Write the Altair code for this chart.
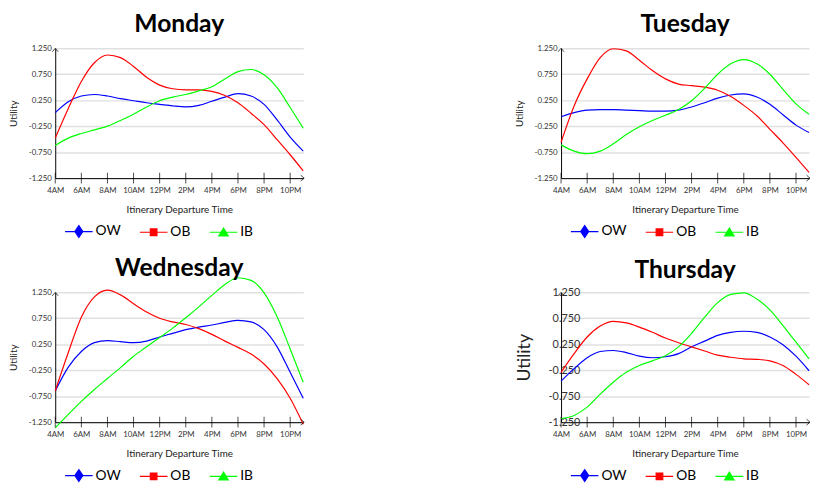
import altair as alt
import pandas as pd

hours = list(range(4, 24))
tick_hours = [4, 6, 8, 10, 12, 14, 16, 18, 20, 22]
y_ticks = [-1.25, -0.75, -0.25, 0.25, 0.75, 1.25]
series_names = ["OW", "OB", "IB"]
series_colors = ["#0000ff", "#ff0000", "#00ff00"]
days = ["Monday", "Tuesday", "Wednesday", "Thursday"]

mon_ow = [0.01, 0.22, 0.33, 0.36, 0.33, 0.28, 0.24, 0.20, 0.17, 0.14, 0.12, 0.15, 0.23, 0.31, 0.375, 0.33, 0.17, -0.13, -0.46, -0.73]
mon_ob = [-0.48, 0.09, 0.61, 0.97, 1.12, 1.07, 0.90, 0.69, 0.54, 0.47, 0.45, 0.45, 0.42, 0.34, 0.20, 0.0, -0.22, -0.51, -0.80, -1.11]
mon_ib = [-0.62, -0.48, -0.39, -0.32, -0.25, -0.14, -0.02, 0.12, 0.24, 0.31, 0.36, 0.43, 0.51, 0.66, 0.80, 0.84, 0.74, 0.49, 0.11, -0.29]

tue_ow = [-0.07, 0.01, 0.06, 0.07, 0.07, 0.06, 0.05, 0.04, 0.04, 0.06, 0.12, 0.20, 0.29, 0.35, 0.37, 0.31, 0.17, -0.03, -0.23, -0.37]
tue_ob = [-0.56, 0.14, 0.66, 1.07, 1.24, 1.20, 1.02, 0.82, 0.66, 0.56, 0.53, 0.50, 0.44, 0.32, 0.15, -0.05, -0.31, -0.57, -0.85, -1.14]
tue_ib = [-0.61, -0.73, -0.78, -0.73, -0.59, -0.41, -0.26, -0.14, -0.04, 0.07, 0.24, 0.48, 0.75, 0.95, 1.03, 0.95, 0.75, 0.46, 0.18, -0.02]

wed_ow = [-0.65, -0.19, 0.11, 0.28, 0.32, 0.30, 0.28, 0.31, 0.39, 0.46, 0.53, 0.58, 0.62, 0.67, 0.71, 0.68, 0.53, 0.20, -0.29, -0.79]
wed_ob = [-0.65, 0.09, 0.77, 1.16, 1.29, 1.20, 1.03, 0.87, 0.75, 0.68, 0.63, 0.55, 0.44, 0.31, 0.19, 0.06, -0.13, -0.41, -0.79, -1.29]
wed_ib = [-1.36, -1.10, -0.85, -0.62, -0.41, -0.20, 0.02, 0.20, 0.38, 0.56, 0.76, 0.97, 1.19, 1.40, 1.53, 1.48, 1.24, 0.78, 0.16, -0.48]

thu_ow = [-0.46, -0.22, -0.01, 0.11, 0.13, 0.09, 0.02, -0.01, 0.01, 0.07, 0.20, 0.31, 0.42, 0.48, 0.50, 0.48, 0.39, 0.24, 0.02, -0.26]
thu_ob = [-0.29, 0.07, 0.39, 0.60, 0.69, 0.66, 0.58, 0.48, 0.37, 0.28, 0.20, 0.12, 0.04, 0.0, -0.03, -0.04, -0.07, -0.16, -0.33, -0.53]
thu_ib = [-1.18, -1.12, -0.96, -0.71, -0.48, -0.29, -0.16, -0.07, 0.03, 0.20, 0.46, 0.77, 1.05, 1.21, 1.24, 1.12, 0.91, 0.61, 0.29, -0.03]

day_series = {
    "Monday": [mon_ow, mon_ob, mon_ib],
    "Tuesday": [tue_ow, tue_ob, tue_ib],
    "Wednesday": [wed_ow, wed_ob, wed_ib],
    "Thursday": [thu_ow, thu_ob, thu_ib],
}

FONT = "Lato"
W, H = 252, 132

legend_shapes = [
    "M-1,0H1M0,-0.43L0.29,0L0,0.43L-0.29,0Z",
    "M-1,0H1M-0.24,-0.24H0.24V0.24H-0.24Z",
    "M-1,0H1M0,-0.3L0.34,0.26H-0.34Z",
]


def panel(day, big=False, title_offset=8):
    rows = []
    for name, vals in zip(series_names, day_series[day]):
        for h, v in zip(hours, vals):
            rows.append({"hour": h, "value": v, "series": name})
    df = pd.DataFrame(rows)

    lab_size = 11 if big else 8
    ytitle_size = 18 if big else 10
    lab_pad = -19 if big else 4
    ytitle_pad = 15 if big else 10

    xscale = alt.Scale(domain=[4, 23], nice=False, zero=False)
    yscale = alt.Scale(domain=[-1.25, 1.25], nice=False, zero=False)

    x_axis = alt.Axis(
        values=tick_hours,
        labelExpr="datum.value == 12 ? '12PM' : (datum.value < 12 ? datum.value + 'AM' : (datum.value - 12) + 'PM')",
        grid=False, ticks=False, domainColor="black", domainWidth=1, labelOverlap=False, labelFlush=False,
        labelFont=FONT, labelFontSize=8, labelColor="#333", labelPadding=9,
        title="Itinerary Departure Time", titleFont=FONT, titleFontSize=10,
        titleFontWeight="normal", titleColor="#222", titlePadding=10,
    )
    y_axis = alt.Axis(
        values=y_ticks,
        labelExpr="replace(format(datum.value, '.3f'), '\u2212', '-')",
        grid=True, gridColor="#e0e0e0", gridWidth=1.5, ticks=False, labelOverlap=False, labelFlush=False,
        domainColor="black", domainWidth=1,
        labelFont=FONT, labelFontSize=lab_size, labelColor="#333", labelPadding=lab_pad,
        title="Utility", titleFont=FONT, titleFontSize=ytitle_size,
        titleFontWeight="normal", titleColor="#222", titlePadding=ytitle_pad,
    )

    base = alt.Chart(df)
    lines = base.mark_line(strokeWidth=1.2, interpolate="monotone", clip=False).encode(
        x=alt.X("hour:Q", scale=xscale, axis=x_axis),
        y=alt.Y("value:Q", scale=yscale, axis=y_axis),
        color=alt.Color("series:N", sort=series_names, scale=alt.Scale(range=series_colors), legend=None),
        detail="series:N",
    )

    leg = alt.Legend(
        orient="none", legendX=9, legendY=171, direction="horizontal", title=None,
        symbolSize=784, symbolStrokeWidth=1.2, symbolOpacity=1, labelFont=FONT, labelFontSize=14,
        labelColor="black", labelOffset=2, columnPadding=16,
    )
    cscale = alt.Scale(domain=series_names, range=series_colors)
    legend_layer = base.mark_point(opacity=0).encode(
        fill=alt.Fill("series:N", scale=cscale, legend=leg),
        stroke=alt.Stroke("series:N", scale=cscale, legend=leg),
        shape=alt.Shape("series:N", scale=alt.Scale(domain=series_names, range=legend_shapes), legend=leg),
    )

    ticks = alt.Chart(pd.DataFrame({"hour": tick_hours})).mark_tick(
        orient="vertical", size=11, thickness=1, color="black"
    ).encode(x=alt.X("hour:Q", scale=xscale, axis=x_axis), y=alt.value(H))

    one = alt.Data(values=[{"a": 1}])
    up_arrow = alt.Chart(one).mark_point(
        shape="M-0.5,0.6L0,0L0.5,0.6", size=144, filled=False, stroke="black", strokeWidth=1
    ).encode(x=alt.value(0), y=alt.value(0))
    right_arrow = alt.Chart(one).mark_point(
        shape="M-0.6,-0.5L0,0L-0.6,0.5", size=144, filled=False, stroke="black", strokeWidth=1
    ).encode(x=alt.value(W + 1), y=alt.value(H))

    return alt.layer(lines, legend_layer, ticks, up_arrow, right_arrow).properties(
        width=W, height=H,
        title=alt.TitleParams(text=day, font=FONT, fontSize=25, fontWeight="bold", color="black",
                              offset=title_offset),
    )


def indep(c):
    return (
        c.resolve_scale(fill="independent", stroke="independent", shape="independent", color="independent")
        .resolve_legend(fill="independent", stroke="independent", shape="independent")
    )


row1 = indep(alt.hconcat(panel("Monday"), panel("Tuesday"), spacing=262, bounds="flush"))
row2 = indep(alt.hconcat(panel("Wednesday", title_offset=-6), panel("Thursday", big=True, title_offset=4),
                         spacing=262, bounds="flush"))
chart = (
    indep(alt.vconcat(row1, row2, spacing=16))
    .properties(padding=0)
    .configure_view(stroke=None)
)

chart.save("out.html", embed_options={"renderer": "svg", "actions": False})
